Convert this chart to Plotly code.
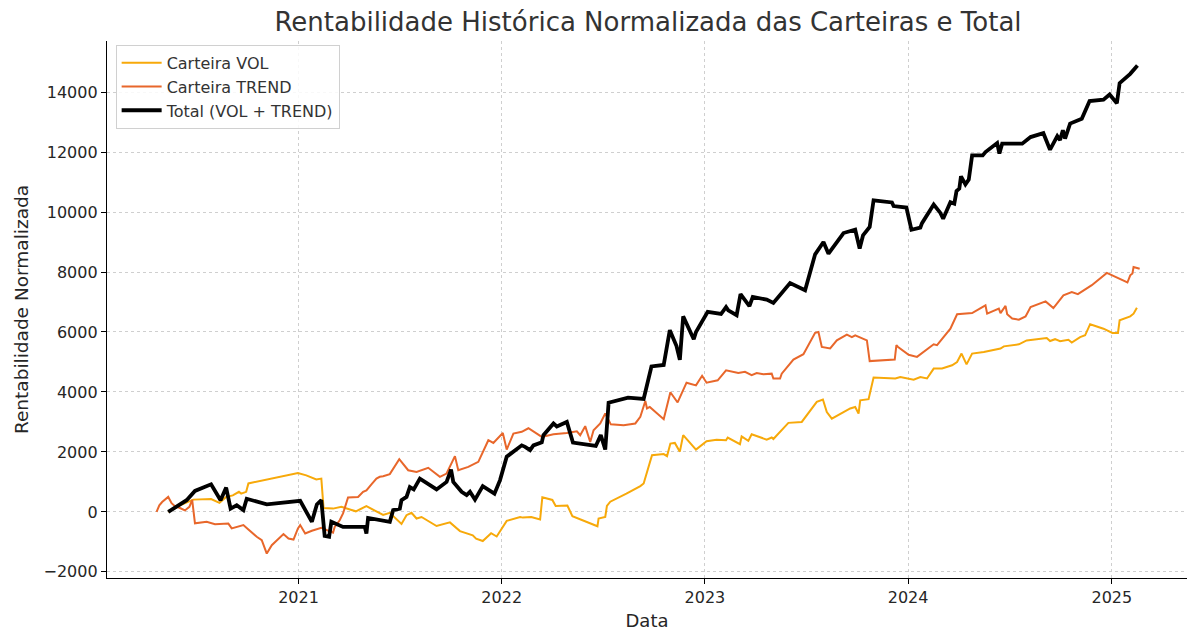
import plotly.graph_objects as go

# ---------------- data ----------------
vol_dates = [
    "2020-05-12", "2020-06-02", "2020-06-26", "2020-07-28", "2020-08-12", "2020-08-24",
    "2020-09-05", "2020-09-16", "2020-09-20", "2020-09-29", "2020-10-03", "2020-12-31",
    "2021-01-15", "2021-02-02", "2021-02-11", "2021-02-15", "2021-03-04", "2021-03-19",
    "2021-04-14", "2021-05-03", "2021-06-02", "2021-06-14", "2021-07-05", "2021-07-14",
    "2021-07-23", "2021-08-01", "2021-08-10", "2021-09-06", "2021-09-30", "2021-10-18",
    "2021-11-10", "2021-11-16", "2021-11-28", "2021-12-13", "2021-12-23", "2022-01-10",
    "2022-02-03", "2022-02-08", "2022-02-23", "2022-03-11", "2022-03-15", "2022-04-02",
    "2022-04-08", "2022-04-29", "2022-05-08", "2022-06-22", "2022-06-24", "2022-07-06",
    "2022-07-09", "2022-07-15", "2022-08-13", "2022-09-07", "2022-09-13", "2022-09-28",
    "2022-10-19", "2022-10-25", "2022-10-31", "2022-11-08", "2022-11-17", "2022-11-23",
    "2022-12-16", "2023-01-04", "2023-01-22", "2023-02-08", "2023-02-11", "2023-02-23",
    "2023-03-05", "2023-03-08", "2023-03-20", "2023-03-26", "2023-04-22", "2023-05-01",
    "2023-05-04", "2023-05-31", "2023-06-24", "2023-07-21", "2023-08-01", "2023-08-08",
    "2023-08-17", "2023-09-19", "2023-09-28", "2023-10-04", "2023-10-07", "2023-10-22",
    "2023-10-31", "2023-12-09", "2023-12-18", "2024-01-11", "2024-01-23", "2024-02-04",
    "2024-02-16", "2024-03-02", "2024-03-20", "2024-03-29", "2024-04-06", "2024-04-15",
    "2024-04-25", "2024-05-16", "2024-06-15", "2024-06-21", "2024-07-18", "2024-08-01",
    "2024-09-06", "2024-09-12", "2024-09-21", "2024-09-30", "2024-10-15", "2024-10-21",
    "2024-11-05", "2024-11-14", "2024-11-23", "2024-12-17", "2025-01-02", "2025-01-12",
    "2025-01-15", "2025-02-03", "2025-02-09", "2025-02-15",
]
vol_values = [
    0, 220, 410, 430, 300, 500,
    550, 670, 610, 670, 950, 1300,
    1220, 1080, 1110, 130, 110, 170,
    20, 190, -100, -30, -400, -110,
    -30, -220, -170, -470, -350, -640,
    -780, -890, -970, -710, -820, -300,
    -170, -190, -170, -250, 490, 400,
    200, 210, -140, -480, -220, -170,
    200, 340, 610, 860, 950, 1890,
    1930, 1860, 2280, 2300, 2010, 2560,
    2080, 2360, 2410, 2390, 2480, 2370,
    2260, 2520, 2370, 2590, 2410, 2480,
    2430, 2970, 3000, 3670, 3750, 3330,
    3110, 3450, 3500, 3280, 3720, 3760,
    4480, 4450, 4500, 4410, 4500, 4450,
    4780, 4780, 4890, 5000, 5280, 4920,
    5280, 5330, 5450, 5520, 5590, 5720,
    5800, 5700, 5760, 5690, 5740, 5650,
    5830, 5890, 6260, 6110, 5970, 5970,
    6390, 6520, 6610, 6810,
]

trend_dates = [
    "2020-04-21", "2020-04-26", "2020-05-01", "2020-05-12", "2020-05-18", "2020-05-24",
    "2020-06-02", "2020-06-11", "2020-06-19", "2020-06-24", "2020-06-29", "2020-07-20",
    "2020-08-04", "2020-08-28", "2020-09-03", "2020-09-12", "2020-09-24", "2020-10-03",
    "2020-10-18", "2020-10-27", "2020-11-05", "2020-11-14", "2020-11-29", "2020-12-05",
    "2020-12-14", "2020-12-23", "2020-12-31", "2021-01-04", "2021-01-13", "2021-01-25",
    "2021-02-11", "2021-02-20", "2021-03-04", "2021-03-07", "2021-03-16", "2021-03-22",
    "2021-03-31", "2021-04-18", "2021-04-27", "2021-05-03", "2021-05-09", "2021-05-12",
    "2021-05-21", "2021-05-27", "2021-06-02", "2021-06-14", "2021-07-01", "2021-07-17",
    "2021-08-01", "2021-08-22", "2021-09-12", "2021-09-24", "2021-10-09", "2021-10-15",
    "2021-11-02", "2021-11-20", "2021-12-08", "2021-12-17", "2022-01-03", "2022-01-10",
    "2022-01-22", "2022-02-06", "2022-02-18", "2022-03-05", "2022-03-14", "2022-04-04",
    "2022-04-28", "2022-05-16", "2022-05-22", "2022-05-31", "2022-06-09", "2022-06-15",
    "2022-06-27", "2022-07-06", "2022-07-16", "2022-08-08", "2022-08-29", "2022-09-07",
    "2022-09-16", "2022-09-19", "2022-09-24", "2022-10-19", "2022-10-31", "2022-11-13",
    "2022-11-29", "2022-12-16", "2022-12-27", "2023-01-04", "2023-01-24", "2023-02-08",
    "2023-03-02", "2023-03-14", "2023-03-26", "2023-04-04", "2023-04-16", "2023-05-01",
    "2023-05-04", "2023-05-16", "2023-05-19", "2023-06-09", "2023-06-27", "2023-07-18",
    "2023-07-24", "2023-07-30", "2023-08-14", "2023-08-26", "2023-09-13", "2023-09-22",
    "2023-09-28", "2023-10-19", "2023-10-24", "2023-12-08", "2023-12-11", "2023-12-14",
    "2024-01-02", "2024-01-17", "2024-02-01", "2024-02-16", "2024-02-22", "2024-03-02",
    "2024-03-11", "2024-03-17", "2024-03-29", "2024-04-25", "2024-05-19", "2024-05-22",
    "2024-06-12", "2024-06-15", "2024-06-24", "2024-06-27", "2024-07-06", "2024-07-18",
    "2024-07-30", "2024-08-08", "2024-09-04", "2024-09-18", "2024-10-06", "2024-10-21",
    "2024-11-01", "2024-11-26", "2024-12-23", "2025-01-29", "2025-02-03", "2025-02-07",
    "2025-02-09", "2025-02-20",
]
trend_values = [
    0, 220, 330, 500, 290, 190,
    130, 50, 170, 400, -380, -330,
    -410, -390, -550, -500, -440, -590,
    -830, -940, -1390, -1110, -830, -740,
    -890, -920, -550, -440, -720, -630,
    -530, -610, -690, -500, -280, -50,
    480, 500, 670, 720, 830, 920,
    1110, 1170, 1190, 1260, 1760, 1390,
    1330, 1470, 1170, 1280, 1860, 1390,
    1500, 1670, 2390, 2300, 2630, 2080,
    2610, 2670, 2790, 2590, 2500, 2590,
    2630, 2690, 2560, 2860, 2330, 2720,
    2950, 3280, 2920, 2890, 2950, 3170,
    3700, 3450, 3500, 3090, 3990, 3650,
    4310, 4220, 4540, 4310, 4390, 4720,
    4630, 4670, 4560, 4630, 4590, 4610,
    4450, 4450, 4610, 5080, 5260, 5970,
    6000, 5500, 5450, 5720, 5910, 5830,
    5890, 5720, 5030, 5080, 5560, 5500,
    5240, 5170, 5370, 5590, 5560, 5780,
    6000, 6110, 6590, 6630, 6890, 6610,
    6780, 6630, 6870, 6590, 6450, 6410,
    6520, 6830, 7020, 6800, 7220, 7330,
    7260, 7560, 7970, 7650, 7890, 7950,
    8170, 8110,
]

total_dates = [
    "2020-05-12", "2020-06-14", "2020-06-29", "2020-07-28", "2020-08-14", "2020-08-24",
    "2020-09-01", "2020-09-12", "2020-09-24", "2020-09-30", "2020-11-05", "2021-01-04",
    "2021-01-25", "2021-02-03", "2021-02-11", "2021-02-17", "2021-02-25", "2021-03-01",
    "2021-03-22", "2021-04-30", "2021-05-03", "2021-05-06", "2021-06-14", "2021-06-20",
    "2021-07-02", "2021-07-05", "2021-07-14", "2021-07-20", "2021-07-27", "2021-08-07",
    "2021-09-06", "2021-09-24", "2021-10-02", "2021-10-06", "2021-10-21", "2021-10-30",
    "2021-11-05", "2021-11-14", "2021-11-28", "2021-12-07", "2021-12-19", "2021-12-29",
    "2022-01-10", "2022-02-06", "2022-02-12", "2022-02-21", "2022-02-27", "2022-03-14",
    "2022-03-17", "2022-04-04", "2022-04-10", "2022-04-28", "2022-05-09", "2022-06-19",
    "2022-06-28", "2022-07-06", "2022-07-12", "2022-08-16", "2022-09-13", "2022-09-27",
    "2022-10-19", "2022-10-30", "2022-11-11", "2022-11-17", "2022-11-23", "2022-12-12",
    "2022-12-16", "2023-01-06", "2023-01-30", "2023-02-08", "2023-02-12", "2023-02-27",
    "2023-03-06", "2023-03-14", "2023-03-22", "2023-03-28", "2023-04-22", "2023-05-04",
    "2023-06-03", "2023-06-30", "2023-07-18", "2023-08-02", "2023-08-11", "2023-09-07",
    "2023-09-28", "2023-10-06", "2023-10-12", "2023-10-24", "2023-10-31", "2023-12-03",
    "2023-12-06", "2023-12-29", "2024-01-07", "2024-01-23", "2024-01-26", "2024-02-16",
    "2024-02-28", "2024-03-04", "2024-03-17", "2024-03-24", "2024-03-28", "2024-04-02",
    "2024-04-05", "2024-04-13", "2024-04-19", "2024-04-25", "2024-05-14", "2024-05-19",
    "2024-06-09", "2024-06-13", "2024-06-18", "2024-07-24", "2024-08-08", "2024-08-31",
    "2024-09-12", "2024-09-25", "2024-09-30", "2024-10-05", "2024-10-09", "2024-10-18",
    "2024-11-08", "2024-11-22", "2024-12-17", "2024-12-28", "2025-01-10", "2025-01-15",
    "2025-02-03", "2025-02-16",
]
total_values = [
    0, 390, 700, 920, 390, 810,
    110, 220, 60, 440, 250, 370,
    -330, 250, 390, -800, -830, -330,
    -500, -500, -720, -200, -330, 60,
    110, 390, 500, 830, 750, 1110,
    750, 1000, 1410, 1000, 670, 560,
    670, 410, 860, 750, 610, 1060,
    1840, 2220, 2170, 2060, 2220, 2320,
    2560, 2950, 2850, 3000, 2310, 2200,
    2560, 2080, 3640, 3810, 3770, 4850,
    4900, 6060, 5530, 5070, 6520, 5760,
    6000, 6670, 6600, 6830, 6720, 6560,
    7260, 7060, 6860, 7170, 7080, 6970,
    7630, 7390, 8590, 9000, 8610, 9300,
    9410, 8780, 9220, 9500, 10390, 10320,
    10200, 10150, 9410, 9480, 9630, 10250,
    9970, 9780, 10330, 10280, 10700, 10780,
    11190, 10920, 11080, 11890, 11890, 12000,
    12300, 11950, 12280, 12280, 12500, 12630,
    12080, 12530, 12400, 12730, 12450, 12950,
    13110, 13700, 13750, 13920, 13630, 14300,
    14610, 14890,
]

year_ticks = ["2021-01-01", "2022-01-01", "2023-01-01", "2024-01-01", "2025-01-01"]
year_labels = ["2021", "2022", "2023", "2024", "2025"]
y_ticks = [-2000, 0, 2000, 4000, 6000, 8000, 10000, 12000, 14000]
y_labels = ["\u22122000", "0", "2000", "4000", "6000", "8000", "10000", "12000", "14000"]

# ---------------- figure ----------------
FONT = "DejaVu Sans, Verdana, sans-serif"

fig = go.Figure()
fig.add_trace(go.Scatter(x=vol_dates, y=vol_values, mode="lines", name="Carteira VOL",
                         line=dict(color="#f7a90a", width=2)))
fig.add_trace(go.Scatter(x=trend_dates, y=trend_values, mode="lines", name="Carteira TREND",
                         line=dict(color="#e8672b", width=2)))
fig.add_trace(go.Scatter(x=total_dates, y=total_values, mode="lines", name="Total (VOL + TREND)",
                         line=dict(color="#000000", width=3.8)))

fig.update_layout(
    width=1200, height=639,
    margin=dict(l=107, r=13, t=41, b=61),
    paper_bgcolor="white", plot_bgcolor="white",
    font=dict(family=FONT, color="#262626"),
    title=dict(text="Rentabilidade Histórica Normalizada das Carteiras e Total",
               x=0.54, xanchor="center", y=0.965, yanchor="middle",
               font=dict(size=26, family=FONT, color="#333333")),
    showlegend=True,
    legend=dict(x=0.008, y=0.993, xanchor="left", yanchor="top",
                bgcolor="rgba(255,255,255,0.85)", bordercolor="#d0d0d0", borderwidth=1,
                font=dict(size=16, family=FONT, color="#333333"),
                itemwidth=40, tracegroupgap=0),
)

GRID_DASH = "3px,3px"

fig.update_xaxes(
    type="date",
    range=["2020-01-23", "2025-05-16"],
    tickvals=year_ticks, ticktext=year_labels,
    showgrid=True, gridcolor="#cfcfcf", griddash=GRID_DASH, gridwidth=1,
    showline=True, linecolor="#000000", linewidth=1.3,
    ticks="outside", ticklen=5, tickcolor="#000000",
    tickfont=dict(size=16, family=FONT, color="#262626"),
    title=dict(text="Data", font=dict(size=18, family=FONT, color="#262626"), standoff=8),
    zeroline=False,
)
fig.update_yaxes(
    range=[-2204, 15704],
    tickvals=y_ticks, ticktext=y_labels,
    showgrid=True, gridcolor="#cfcfcf", griddash=GRID_DASH, gridwidth=1,
    showline=True, linecolor="#000000", linewidth=1.3,
    ticks="outside", ticklen=5, tickcolor="#000000",
    tickfont=dict(size=16, family=FONT, color="#262626"),
    title=dict(text="Rentabilidade Normalizada", font=dict(size=18.5, family=FONT, color="#262626"),
               standoff=10),
    zeroline=False,
)

fig.write_html("out.html")
